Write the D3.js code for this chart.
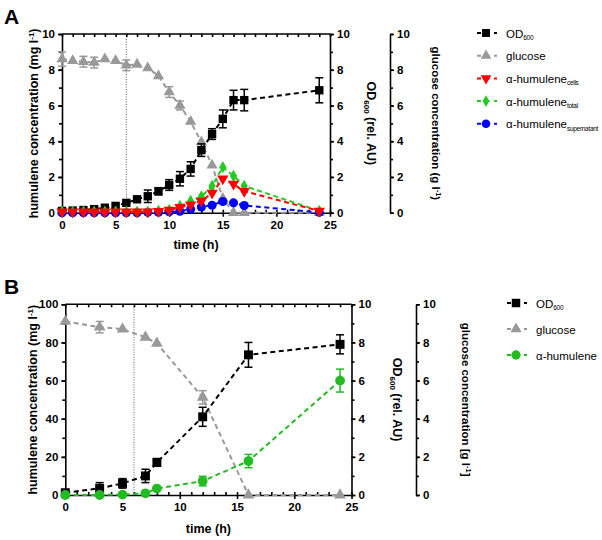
<!DOCTYPE html>
<meta charset="utf-8">
<style>
  body { margin: 0; background: #fff; }
  svg { font-family: "Liberation Sans", Arial, sans-serif; }
  .tick text { font: bold 11.5px "Liberation Sans", Arial, sans-serif; }
  .title { font: bold 12.5px "Liberation Sans", Arial, sans-serif; }
  .legend text { font: 11.5px "Liberation Sans", Arial, sans-serif; }
  .domain, .tick line { stroke: #000; stroke-width: 1.6px; }
</style>
<svg width="602" height="540"></svg>
<script src="https://d3js.org/d3.v7.min.js"></script>
<script>

// ---- panel A data (time in h) ----
var timeA = [0, 1, 2, 3, 4, 5, 6, 7, 8, 9, 10, 11, 12, 13, 14, 15, 16, 17, 24];
var odA = [0.1, 0.12, 0.15, 0.2, 0.28, 0.38, 0.55, 0.75, 0.92, 1.2, 1.55, 1.9, 2.45, 3.5, 4.4, 5.25, 6.3, 6.3, 6.85];
var odErrA = [0.05, 0.05, 0.05, 0.06, 0.06, 0.08, 0.08, 0.15, 0.35, 0.2, 0.3, 0.4, 0.4, 0.35, 0.3, 0.5, 0.55, 0.6, 0.7];
var glucoseA = [8.6, 8.5, 8.45, 8.4, 8.6, 8.5, 8.25, 8.3, 8.1, 7.65, 6.75, 6.0, 5.1, 3.95, 2.65, 0.8, 0, 0, 0];
var glucoseErrA = [0.4, 0.05, 0.3, 0.3, 0.05, 0.05, 0.3, 0.05, 0.05, 0.05, 0.3, 0.25, 0.05, 0.05, 0.05, 0.05, 0, 0, 0];
var cellsA = [0.05, 0.05, 0.05, 0.05, 0.05, 0.05, 0.05, 0.05, 0.05, 0.08, 0.15, 0.3, 0.45, 0.65, 1.1, 1.9, 1.6, 1.2, 0.1];
var totalA = [0.05, 0.05, 0.05, 0.05, 0.05, 0.05, 0.05, 0.05, 0.06, 0.1, 0.15, 0.37, 0.65, 0.9, 1.5, 2.55, 2.05, 1.5, 0.1];
var superA = [0.0, 0.0, 0.0, 0.0, 0.0, 0.0, 0.0, 0.0, 0.02, 0.03, 0.05, 0.08, 0.2, 0.32, 0.42, 0.63, 0.55, 0.4, 0.02];

// ---- panel B data ----
var timeB = [0, 3, 5, 7, 8, 12, 16, 24];
var odB = [0.12, 0.35, 0.61, 1.0, 1.71, 4.1, 7.35, 7.9];
var odErrB = [0.05, 0.3, 0.25, 0.35, 0.2, 0.5, 0.65, 0.5];
var glucoseB = [9.1, 8.8, 8.7, 8.27, 7.95, 5.12, 0, 0];
var glucoseErrB = [0.05, 0.3, 0.05, 0.05, 0.05, 0.35, 0, 0];
var humuleneB = [0, 0, 0.2, 0.9, 3.4, 7.3, 17.8, 60];
var humuleneErrB = [0, 0, 0, 0.3, 0.5, 2.5, 3.5, 6];

var xTicks = [0, 5, 10, 15, 20, 25];
var inductionTime = 6;

var svg = d3.select("svg");

function rows(t, v, e) {
  return t.map(function(d, i) { return { t: d, v: v[i], e: e ? e[i] : 0 }; });
}

function marker(g, shape, color, size) {
  var types = { square: d3.symbolSquare, up: d3.symbolTriangle, down: d3.symbolTriangle,
                diamond: d3.symbolDiamond, circle: d3.symbolCircle };
  var p = g.append("path")
    .attr("d", d3.symbol().type(types[shape]).size(size))
    .attr("fill", color);
  if (shape === "down") p.attr("transform", "rotate(180)");
  return p;
}

function drawPanel(o) {
  var x = d3.scaleLinear().domain([0, 25]).range([o.left, o.right]);
  var yL = d3.scaleLinear().domain([0, o.leftMax]).range([o.bottom, o.top]);
  var yR = d3.scaleLinear().domain([0, 10]).range([o.bottom, o.top]);
  var g = svg.append("g");

  // panel letter
  g.append("text").attr("x", 4).attr("y", o.top - 10)
    .style("font", "bold 21px 'Liberation Sans', Arial, sans-serif").text(o.letter);

  // dotted induction line
  g.append("line")
    .attr("x1", x(inductionTime)).attr("x2", x(inductionTime))
    .attr("y1", o.top).attr("y2", o.bottom)
    .attr("stroke", "#333").attr("stroke-width", 0.8).attr("stroke-dasharray", "1,1.5");

  // top frame with inward minor ticks
  g.append("g").attr("transform", "translate(0," + o.top + ")")
    .call(d3.axisBottom(x).tickValues(d3.range(0, 26, 1)).tickSize(3).tickFormat(""))
    .call(function(s) { s.select(".domain").attr("d", "M" + o.left + ",0H" + o.right); });

  // bottom axis: minor inward, major outward
  g.append("g").attr("transform", "translate(0," + o.bottom + ")")
    .call(d3.axisTop(x).tickValues(d3.range(0, 26, 1)).tickSize(3).tickFormat(""))
    .call(function(s) { s.select(".domain").remove(); });
  g.append("g").attr("transform", "translate(0," + o.bottom + ")")
    .call(d3.axisBottom(x).tickValues(xTicks).tickSize(4).tickSizeOuter(0).tickPadding(4));

  // left axis
  g.append("g").attr("transform", "translate(" + o.left + ",0)")
    .call(d3.axisLeft(yL).tickValues(d3.range(0, o.leftMax + 1, o.leftMax / 10)).tickSize(3).tickFormat(""))
    .call(function(s) { s.select(".domain").remove(); });
  g.append("g").attr("transform", "translate(" + o.left + ",0)")
    .call(d3.axisLeft(yL).ticks(5).tickSize(4).tickSizeOuter(0).tickPadding(3));

  // OD axis (right of frame) and glucose axis
  [o.right, o.gluX].forEach(function(ax) {
    g.append("g").attr("transform", "translate(" + ax + ",0)")
      .call(d3.axisRight(yR).tickValues(d3.range(0, 11, 1)).tickSize(3).tickFormat(""))
      .call(function(s) { s.select(".domain").remove(); });
    g.append("g").attr("transform", "translate(" + ax + ",0)")
      .call(d3.axisRight(yR).ticks(5).tickSize(4).tickSizeOuter(0).tickPadding(3));
  });

  // axis titles
  var midY = (o.top + o.bottom) / 2;
  var lt = g.append("text").attr("class", "title").attr("text-anchor", "middle")
    .attr("transform", "translate(" + o.leftTitleX + "," + midY + ") rotate(-90)");
  lt.append("tspan").text("humulene concentration (mg l");
  lt.append("tspan").attr("dy", -4).style("font-size", "8px").text("-1");
  lt.append("tspan").attr("dy", 4).text(")");

  var ot = g.append("text").attr("class", "title").attr("text-anchor", "middle")
    .attr("transform", "translate(" + (o.right + o.odDx) + "," + midY + ") rotate(90)");
  ot.append("tspan").text("OD");
  ot.append("tspan").attr("dy", 3).style("font-size", "8px").text("600");
  ot.append("tspan").attr("dy", -3).text(" (rel. AU)");

  var gt = g.append("text").attr("class", "title").attr("text-anchor", "middle")
    .style("font-size", "11.5px")
    .attr("transform", "translate(" + (o.gluX + o.gluDx) + "," + midY + ") rotate(90)");
  gt.append("tspan").text("glucose concentration " + o.gluOpen + "g l");
  gt.append("tspan").attr("dy", -4).style("font-size", "7.5px").text("-1");
  gt.append("tspan").attr("dy", 4).text(o.gluClose);

  g.append("text").attr("class", "title").attr("text-anchor", "middle")
    .attr("x", x(12.5)).attr("y", o.bottom + o.xTitleDy).text("time (h)");

  // series
  o.series.forEach(function(s) {
    var sc = s.axis === "left" ? yL : yR;
    var sg = g.append("g");
    sg.append("path").datum(s.data)
      .attr("fill", "none").attr("stroke", s.color).attr("stroke-width", 2)
      .attr("stroke-dasharray", "5,3.5")
      .attr("d", d3.line().x(function(d) { return x(d.t); }).y(function(d) { return sc(d.v); }));
    var eb = sg.selectAll(".eb").data(s.data.filter(function(d) { return d.e > 0.06 * sc.domain()[1] / 10; }))
      .enter().append("g").attr("stroke", s.color).attr("stroke-width", 1.5);
    eb.append("line").attr("x1", function(d) { return x(d.t); }).attr("x2", function(d) { return x(d.t); })
      .attr("y1", function(d) { return sc(d.v + d.e); }).attr("y2", function(d) { return sc(d.v - d.e); });
    [1, -1].forEach(function(k) {
      eb.append("line").attr("x1", function(d) { return x(d.t) - 4; }).attr("x2", function(d) { return x(d.t) + 4; })
        .attr("y1", function(d) { return sc(d.v + k * d.e); }).attr("y2", function(d) { return sc(d.v + k * d.e); });
    });
    sg.selectAll(".m").data(s.data).enter().append("g")
      .attr("transform", function(d) { return "translate(" + x(d.t) + "," + sc(d.v) + ")"; })
      .each(function() { marker(d3.select(this), s.shape, s.color, s.size); });
  });

  // legend
  var lg = g.append("g").attr("class", "legend");
  o.series.slice().sort(function(a, b) { return a.order - b.order; }).forEach(function(s, i) {
    var ly = o.legendY + i * o.legendStep;
    var r = lg.append("g").attr("transform", "translate(" + o.legendX + "," + ly + ")");
    r.append("line").attr("x1", 0).attr("x2", 20).attr("stroke", s.color).attr("stroke-width", 2)
      .attr("stroke-dasharray", "4,4.5").attr("stroke-dashoffset", 0);
    marker(r.append("g").attr("transform", "translate(9,0)"), s.shape, s.color, s.size * 0.9);
    var t = r.append("text").attr("x", 29).attr("y", 4.5);
    t.append("tspan").text(s.label);
    if (s.sub) t.append("tspan").attr("dy", 2.5).style("font-size", "6.5px")
      .style("letter-spacing", "-0.3px").text(s.sub);
  });
}

drawPanel({
  letter: "A", left: 62, right: 330, gluX: 390, top: 34, bottom: 212.7, leftMax: 10,
  gluOpen: "(", gluClose: ")", xTitleDy: 36, leftTitleX: 38, odDx: 37, gluDx: 42,
  legendX: 477, legendY: 33, legendStep: 22.7,
  series: [
    { order: 1, label: "glucose", color: "#999999", shape: "up", size: 55, axis: "right", data: rows(timeA, glucoseA, glucoseErrA) },
    { order: 0, label: "OD", sub: "600", color: "#000000", shape: "square", size: 70, axis: "right", data: rows(timeA, odA, odErrA) },
    { order: 4, label: "\u03b1-humulene", sub: "supernatant", color: "#0000ff", shape: "circle", size: 65, axis: "left", data: rows(timeA, superA) },
    { order: 3, label: "\u03b1-humulene", sub: "total", color: "#22cc22", shape: "diamond", size: 45, axis: "left", data: rows(timeA, totalA) },
    { order: 2, label: "\u03b1-humulene", sub: "cells", color: "#ff0000", shape: "down", size: 55, axis: "left", data: rows(timeA, cellsA) }
  ]
});

drawPanel({
  letter: "B", left: 65.3, right: 351.5, gluX: 416, top: 304.3, bottom: 495, leftMax: 100,
  gluOpen: "[", gluClose: "]", xTitleDy: 38, leftTitleX: 37, odDx: 41, gluDx: 46,
  legendX: 507, legendY: 303, legendStep: 26,
  series: [
    { order: 1, label: "glucose", color: "#999999", shape: "up", size: 60, axis: "right", data: rows(timeB, glucoseB, glucoseErrB) },
    { order: 0, label: "OD", sub: "600", color: "#000000", shape: "square", size: 80, axis: "right", data: rows(timeB, odB, odErrB) },
    { order: 2, label: "\u03b1-humulene", color: "#22bb22", shape: "circle", size: 75, axis: "left", data: rows(timeB, humuleneB, humuleneErrB) }
  ]
});

</script>
